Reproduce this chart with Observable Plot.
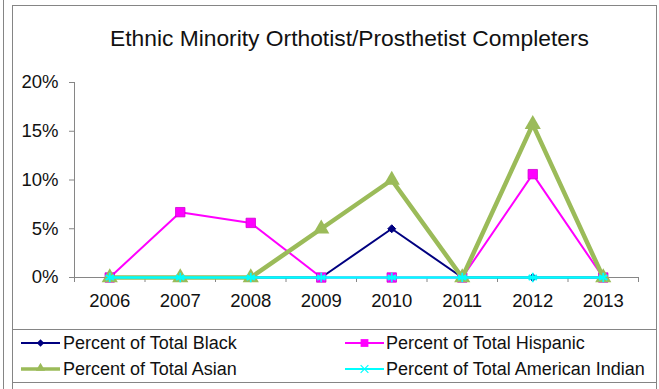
<!DOCTYPE html>
<html><head><meta charset="utf-8">
<script src="https://cdn.jsdelivr.net/npm/d3@7"></script>
<script src="https://cdn.jsdelivr.net/npm/@observablehq/plot@0.6"></script>
<style>
body{margin:0;background:#fff;}
#wrap{position:relative;width:659px;height:389px;overflow:hidden;font-family:"Liberation Sans",Arial,sans-serif;color:#111;background:#fff;}
.ln{position:absolute;background:#858585;}
#title{position:absolute;left:110px;top:27px;font-size:22.8px;line-height:1;white-space:nowrap;color:#111;}
.leg{position:absolute;font-size:18px;line-height:1;white-space:nowrap;color:#111;}
.sw{position:absolute;}
#chart{position:absolute;left:0;top:0;}
</style></head><body><div id="wrap">
<div class="ln" style="left:3px;top:0;width:1px;height:389px"></div>
<div class="ln" style="left:12px;top:5px;width:1px;height:384px"></div>
<div class="ln" style="left:656px;top:5px;width:1px;height:384px"></div>
<div class="ln" style="left:12px;top:5px;width:645px;height:1px"></div>
<div class="ln" style="left:12px;top:329px;width:645px;height:1px"></div>
<div class="ln" style="left:12px;top:382px;width:645px;height:1px"></div>
<div id="chart"></div>
<div id="title"></div>
<div id="legend"></div>
</div>
<script>
const titleText = "Ethnic Minority Orthotist/Prosthetist Completers";
const years = ["2006","2007","2008","2009","2010","2011","2012","2013"];
const black    = [0, 0,     0,     0,    0.05, 0, 0,     0];
const hispanic = [0, 0.067, 0.056, 0,    0,    0, 0.106, 0];
const asian    = [0, 0,     0,     0.05, 0.10, 0, 0.157, 0];
const amIndian = [0, 0,     0,     0,    0,    0, 0,     0];
const yTicks = [0, 0.05, 0.10, 0.15, 0.20];
const seriesNames = ["Percent of Total Black","Percent of Total Hispanic","Percent of Total Asian","Percent of Total American Indian"];
const seriesColors = ["#000080","#FF00FF","#9BBB59","#00FFFF"];

document.getElementById("title").textContent = titleText;

const rows = years.map((y, i) => ({i, year: y, black: black[i], hispanic: hispanic[i], asian: asian[i], amIndian: amIndian[i]}));
const idx = years.map((_, i) => i);
const bounds = d3.range(-0.5, years.length, 1);

const chart = Plot.plot({
  width: 659, height: 389,
  marginLeft: 74, marginRight: 21, marginTop: 82, marginBottom: 112,
  x: {domain: [-0.5, years.length - 0.5]},
  y: {domain: [0, 0.2]},
  style: {fontFamily: "'Liberation Sans', Arial, sans-serif", fontSize: "18.5px", background: "transparent", color: "#111"},
  marks: [
    Plot.axisY({ticks: yTicks, tickFormat: d => Math.round(d * 100) + "%", tickSize: 5, tickPadding: 11, label: null, stroke: "#868686"}),
    Plot.axisX({ticks: idx, tickFormat: i => years[i], tickSize: 0, tickPadding: 16, label: null}),
    Plot.axisX({ticks: bounds, tickFormat: () => "", tickSize: 5, label: null, stroke: "#868686"}),
    Plot.ruleX([-0.5], {stroke: "#868686"}),
    Plot.ruleY([0], {stroke: "#868686"}),
    Plot.line(rows, {x: "i", y: "black", stroke: seriesColors[0], strokeWidth: 2}),
    Plot.dot(rows, {x: "i", y: "black", symbol: "diamond2", r: 3.6, fill: seriesColors[0], stroke: seriesColors[0], strokeWidth: 1}),
    Plot.line(rows, {x: "i", y: "hispanic", stroke: seriesColors[1], strokeWidth: 2}),
    Plot.dot(rows, {x: "i", y: "hispanic", symbol: "square", r: 5.3, fill: seriesColors[1], stroke: "#d000d0", strokeWidth: 0.8}),
    Plot.line(rows, {x: "i", y: "asian", stroke: seriesColors[2], strokeWidth: 4.5}),
    Plot.dot(rows, {x: "i", y: "asian", symbol: "triangle", r: 6, fill: seriesColors[2], stroke: "none"}),
    Plot.line(rows, {x: "i", y: "amIndian", stroke: seriesColors[3], strokeWidth: 2.5}),
    Plot.dot(rows, {x: "i", y: "amIndian", symbol: "asterisk", r: 4.5, stroke: seriesColors[3], strokeWidth: 1.8})
  ]
});
document.getElementById("chart").appendChild(chart);

// legend
const legend = document.getElementById("legend");
const legPos = [
  {lx: 21, tx: 63, cy: 343},
  {lx: 345, tx: 386, cy: 343},
  {lx: 21, tx: 63, cy: 369},
  {lx: 345, tx: 386, cy: 369}
];
const legSymbols = ["diamond2", "square", "triangle", "times"];
const legR = [3.4, 4.4, 3.4, 3.6];
const symMap = {diamond2: d3.symbolDiamond2, square: d3.symbolSquare, triangle: d3.symbolTriangle, times: d3.symbolTimes};
seriesNames.forEach((name, k) => {
  const p = legPos[k];
  const svg = d3.create("svg").attr("class", "sw").attr("width", 40).attr("height", 20)
    .style("left", p.lx + "px").style("top", (p.cy - 10) + "px");
  svg.append("line").attr("x1", 0).attr("x2", 39).attr("y1", 10).attr("y2", 10)
    .attr("stroke", seriesColors[k]).attr("stroke-width", k === 2 ? 3.5 : 2);
  const path = d3.symbol(symMap[legSymbols[k]], Math.PI * legR[k] * legR[k])();
  const g = svg.append("path").attr("d", path).attr("transform", "translate(19.5," + (k === 2 ? 9 : 10) + ")");
  if (legSymbols[k] === "times") g.attr("fill", "none").attr("stroke", seriesColors[k]).attr("stroke-width", 1.2);
  else g.attr("fill", seriesColors[k]).attr("stroke", "none");
  legend.appendChild(svg.node());
  const t = document.createElement("div");
  t.className = "leg";
  t.style.left = p.tx + "px";
  t.style.top = (p.cy - 9) + "px";
  t.textContent = name;
  legend.appendChild(t);
});
</script>
</body></html>
